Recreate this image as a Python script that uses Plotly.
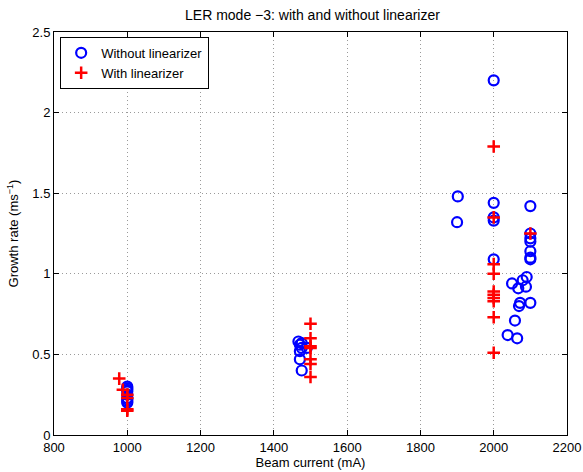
import plotly.graph_objects as go

# Without linearizer
x_without = [1000, 1000, 1000, 1000, 1000, 1000, 1000, 1000, 1000,
             1467, 1471, 1476, 1476, 1490, 1471, 1471, 1476,
             1902, 1900,
             2000, 2000, 2000, 2000, 2000,
             2100, 2100, 2100, 2100, 2100, 2100, 2100, 2100,
             2090, 2079, 2050, 2088, 2067, 2072, 2069, 2058, 2038, 2064]
y_without = [0.30, 0.29, 0.28, 0.27, 0.25, 0.23, 0.22, 0.21, 0.20,
             0.58, 0.56, 0.57, 0.54, 0.54, 0.52, 0.47, 0.40,
             1.48, 1.32,
             2.20, 1.44, 1.35, 1.33, 1.09,
             1.42, 1.25, 1.22, 1.20, 1.14, 1.10, 1.09, 0.82,
             0.98, 0.96, 0.94, 0.92, 0.91, 0.82, 0.80, 0.71, 0.62, 0.60]

# With linearizer
x_with = [978, 988, 1000, 1000, 1000, 1000,
          1500, 1500, 1500, 1500, 1500, 1500, 1500,
          2000, 2000, 2000, 2000, 2000, 2000, 2000, 2000, 2000, 2000,
          2100]
y_with = [0.35, 0.28, 0.25, 0.23, 0.16, 0.15,
          0.69, 0.60, 0.55, 0.54, 0.47, 0.44, 0.36,
          1.79, 1.35, 1.06, 1.00, 0.89, 0.87, 0.85, 0.83, 0.73, 0.51,
          1.25]

x_ticks = [800, 1000, 1200, 1400, 1600, 1800, 2000, 2200]
y_ticks = [0, 0.5, 1, 1.5, 2, 2.5]
y_tick_labels = ["0", "0.5", "1", "1.5", "2", "2.5"]

FONT = "Liberation Sans, Arial, Helvetica, sans-serif"

fig = go.Figure()
fig.add_trace(go.Scatter(
    x=x_without, y=y_without, mode="markers", name="Without linearizer",
    marker=dict(symbol="circle-open", size=10, color="#0000ff",
                line=dict(width=2.2, color="#0000ff")),
))
fig.add_trace(go.Scatter(
    x=x_with, y=y_with, mode="markers", name="With linearizer",
    marker=dict(symbol="cross-thin-open", size=9, color="#ff0000",
                line=dict(width=2.5, color="#ff0000")),
))

axis_common = dict(
    showline=True, linecolor="black", linewidth=1, mirror="ticks",
    ticks="inside", ticklen=5, tickcolor="black", tickwidth=1,
    showgrid=True, gridcolor="#9a9a9a", griddash="1px,3px", gridwidth=1,
    zeroline=False, automargin=False,
    tickfont=dict(size=13, color="black", family=FONT),
)

fig.update_layout(
    width=583, height=472,
    margin=dict(l=54, r=16, t=32, b=37),
    paper_bgcolor="white", plot_bgcolor="white",
    font=dict(family=FONT, size=13, color="black"),
    title=dict(text="LER mode \u22123: with and without linearizer",
               x=0.536, xanchor="center", y=0.969, yanchor="middle",
               font=dict(size=14, color="black", family=FONT)),
    xaxis=dict(range=[800, 2200], tickvals=x_ticks,
               title=dict(text="Beam current (mA)", standoff=0,
                          font=dict(size=13, family=FONT)),
               **axis_common),
    yaxis=dict(range=[0, 2.5], tickvals=y_ticks, ticktext=y_tick_labels,
               title=dict(text="Growth rate (ms<sup>\u22121</sup>)", standoff=10,
                          font=dict(size=13, family=FONT)),
               **axis_common),
    legend=dict(x=0.012, y=0.988, xanchor="left", yanchor="top",
                bgcolor="white", bordercolor="black", borderwidth=1,
                font=dict(size=13, family=FONT, color="black"),
                tracegroupgap=0, itemwidth=30),
    showlegend=True,
)

fig.write_html("out.html")
